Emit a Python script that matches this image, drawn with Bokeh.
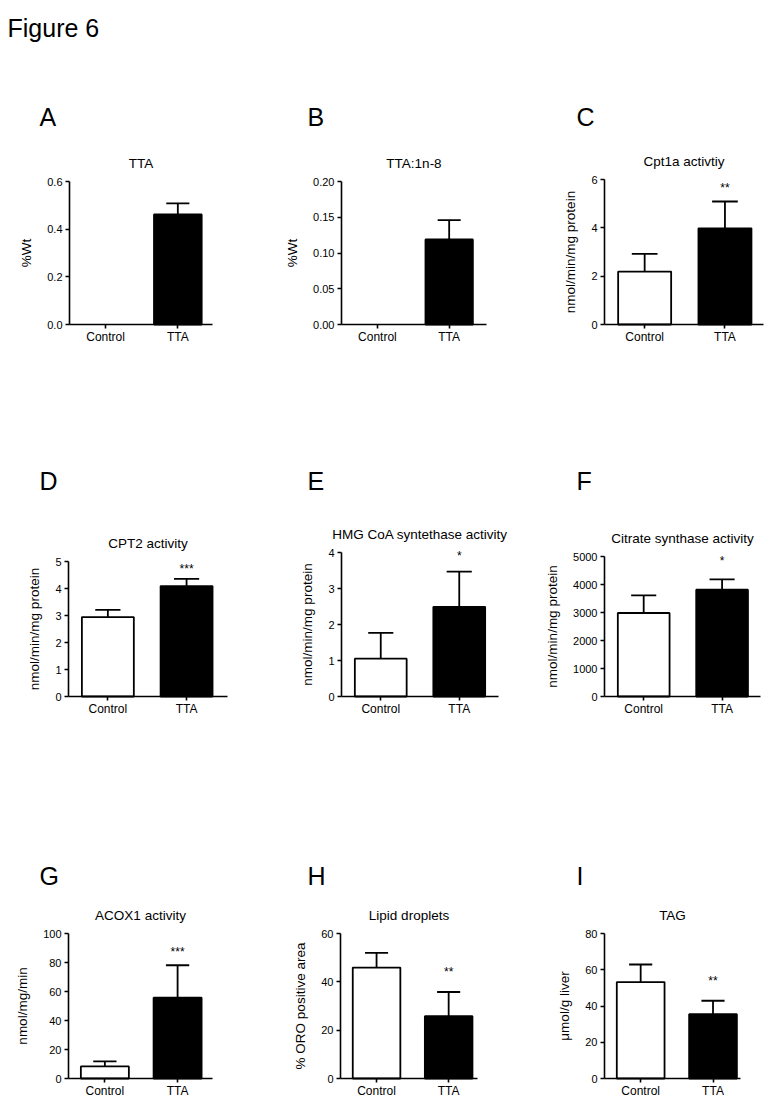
from bokeh.plotting import figure
from bokeh.layouts import row, column
from bokeh.models import FixedTicker, Label, ColumnDataSource, Range1d
from bokeh.embed import file_html
from bokeh.resources import INLINE

# ---------------- data ----------------
figure_title = "Figure 6"
letters = ["A", "B", "C", "D", "E", "F", "G", "H", "I"]
titles = ["TTA", "TTA:1n-8", "Cpt1a activtiy", "CPT2 activity",
          "HMG CoA syntethase activity", "Citrate synthase activity",
          "ACOX1 activity", "Lipid droplets", "TAG"]
ylabels = ["%Wt", "%Wt", "nmol/min/mg protein", "nmol/min/mg protein",
           "nmol/min/mg protein", "nmol/min/mg protein", "nmol/mg/min",
           "% ORO positive area", "\u03bcmol/g liver"]
groups = ["Control", "TTA"]
control_mean = [0.0, 0.0, 2.19, 2.94, 1.05, 2983, 8.3, 45.9, 53.2]
control_sem = [0.0, 0.0, 0.73, 0.27, 0.72, 627, 3.5, 6.1, 9.7]
tta_mean = [0.462, 0.119, 3.98, 4.09, 2.49, 3813, 55.7, 25.8, 35.5]
tta_sem = [0.046, 0.027, 1.11, 0.27, 0.98, 368, 22.4, 10.0, 7.4]
stars = ["", "", "**", "***", "*", "*", "***", "**", "**"]
y_max = [0.6, 0.2, 6, 5, 4, 5000, 100, 60, 80]
y_ticks = [[0, 0.2, 0.4, 0.6], [0, 0.05, 0.1, 0.15, 0.2], [0, 2, 4, 6],
           [0, 1, 2, 3, 4, 5], [0, 1, 2, 3, 4], [0, 1000, 2000, 3000, 4000, 5000],
           [0, 20, 40, 60, 80, 100], [0, 20, 40, 60], [0, 20, 40, 60, 80]]
y_tick_labels = [["0.0", "0.2", "0.4", "0.6"], ["0.00", "0.05", "0.10", "0.15", "0.20"],
                 ["0", "2", "4", "6"], ["0", "1", "2", "3", "4", "5"],
                 ["0", "1", "2", "3", "4"], ["0", "1000", "2000", "3000", "4000", "5000"],
                 ["0", "20", "40", "60", "80", "100"], ["0", "20", "40", "60"],
                 ["0", "20", "40", "60", "80"]]

# ---------------- layout (page pixels) ----------------
col_x = [0, 255, 510]
col_w = [255, 255, 260]
row_y = [0, 345, 715]
row_h = [345, 370, 385]
# axis box: left, right, top, bottom (page pixels)
frames = [(69, 212, 181, 324), (341, 486, 181, 324), (604, 763, 179, 324),
          (68, 227, 561, 696), (341, 498, 552, 696), (604, 760, 556, 696),
          (68, 212, 933, 1078), (340, 477, 933, 1078), (604, 740, 933, 1078)]
x_start = 0.5
x_end = [2.48, 2.52, 2.48, 2.52, 2.5, 2.49, 2.48, 2.4, 2.38]
letter_left = [39, 307, 576]
letter_base = [116.5, 480, 875]
title_gap = 18
star_offset = [0, 0, 13, 10, 16, 18, 13, 20, 20]
fig_title_pos = (7, 27)
FONT = "Liberation Sans"
BAR_W = 0.66
CAP_HALF = 0.16
MARK_LW = 1.8
AXIS_LW = 1.6

plots = []
for i in range(9):
    r, c = divmod(i, 3)
    fl, fr, ft, fb = frames[i]
    cx0, cw = col_x[c], col_w[c]
    cy0, ch = row_y[r], row_h[r]
    sx = (fr - fl) / (x_end[i] - x_start)
    sy = (fb - ft) / y_max[i]
    xr = Range1d(x_start - (fl - cx0) / sx, x_start + (cx0 + cw - fl) / sx)
    yr = Range1d(-(cy0 + ch - fb) / sy, y_max[i] + (ft - cy0) / sy)
    p = figure(width=cw, height=ch, x_range=xr, y_range=yr,
               output_backend="svg", toolbar_location=None,
               min_border_left=0, min_border_right=0,
               min_border_top=0, min_border_bottom=0)
    p.outline_line_color = None
    p.xgrid.visible = False
    p.ygrid.visible = False

    xs = [1, 2]
    means = [control_mean[i], tta_mean[i]]
    sems = [control_sem[i], tta_sem[i]]
    fills = ["white", "black"]
    keep = [k for k in range(2) if means[k] > 0]
    src = ColumnDataSource(dict(
        x=[xs[k] for k in keep],
        top=[means[k] for k in keep],
        err=[means[k] + sems[k] for k in keep],
        cl=[xs[k] - CAP_HALF for k in keep],
        cr=[xs[k] + CAP_HALF for k in keep],
        fill=[fills[k] for k in keep],
    ))
    p.segment(x0="x", y0="top", x1="x", y1="err", source=src,
              line_color="black", line_width=MARK_LW)
    p.segment(x0="cl", y0="err", x1="cr", y1="err", source=src,
              line_color="black", line_width=MARK_LW)
    p.vbar(x="x", top="top", bottom=0, width=BAR_W, source=src,
           fill_color="fill", line_color="black", line_width=MARK_LW)

    # axes placed at data locations
    p.yaxis.fixed_location = x_start
    p.yaxis.bounds = (0, y_max[i])
    p.xaxis.fixed_location = 0
    p.xaxis.bounds = (x_start, x_end[i])
    p.yaxis.ticker = FixedTicker(ticks=y_ticks[i])
    p.yaxis.major_label_overrides = {t: s for t, s in zip(y_ticks[i], y_tick_labels[i])}
    p.xaxis.ticker = FixedTicker(ticks=xs)
    p.xaxis.major_label_overrides = {xs[k]: groups[k] for k in range(2)}
    p.yaxis.axis_label = ylabels[i]
    for ax in (p.xaxis, p.yaxis):
        ax.axis_line_color = "black"
        ax.axis_line_width = AXIS_LW
        ax.major_tick_line_color = "black"
        ax.major_tick_line_width = AXIS_LW
        ax.major_tick_in = 0
        ax.major_tick_out = 4
        ax.minor_tick_line_color = None
        ax.major_label_text_color = "black"
        ax.major_label_text_font = FONT
        ax.axis_label_text_font = FONT
        ax.axis_label_text_color = "black"
        ax.axis_label_text_font_style = "normal"
        ax.axis_label_text_font_size = "13.5px"
    p.yaxis.major_label_text_font_size = "11px"
    p.yaxis.major_label_standoff = 3
    p.yaxis.axis_label_standoff = 10
    p.xaxis.major_label_text_font_size = "12px"
    p.xaxis.major_label_standoff = 1

    bottom = cy0 + ch
    p.add_layout(Label(x=(fl + fr) / 2 - cx0, y=bottom - (ft - title_gap),
                       x_units="screen", y_units="screen",
                       text=titles[i], text_font=FONT, text_font_size="13.5px",
                       text_align="center", text_baseline="alphabetic",
                       text_color="black"))
    p.add_layout(Label(x=letter_left[c] - cx0, y=bottom - letter_base[r],
                       x_units="screen", y_units="screen",
                       text=letters[i], text_font=FONT, text_font_size="25px",
                       text_align="left", text_baseline="alphabetic",
                       text_color="black"))
    if stars[i]:
        p.add_layout(Label(x=2, y=tta_mean[i] + tta_sem[i], y_offset=star_offset[i],
                           text=stars[i], text_font=FONT, text_font_size="12px",
                           text_align="center", text_baseline="alphabetic",
                           text_color="black"))
    if i == 0:
        p.add_layout(Label(x=fig_title_pos[0] - cx0, y=bottom - fig_title_pos[1],
                           x_units="screen", y_units="screen",
                           text=figure_title, text_font=FONT, text_font_size="25px",
                           text_align="left", text_baseline="alphabetic",
                           text_color="black"))
    plots.append(p)

layout = column(row(plots[0], plots[1], plots[2], spacing=0),
                row(plots[3], plots[4], plots[5], spacing=0),
                row(plots[6], plots[7], plots[8], spacing=0), spacing=0)

open("out.html", "w").write(file_html(layout, INLINE))
